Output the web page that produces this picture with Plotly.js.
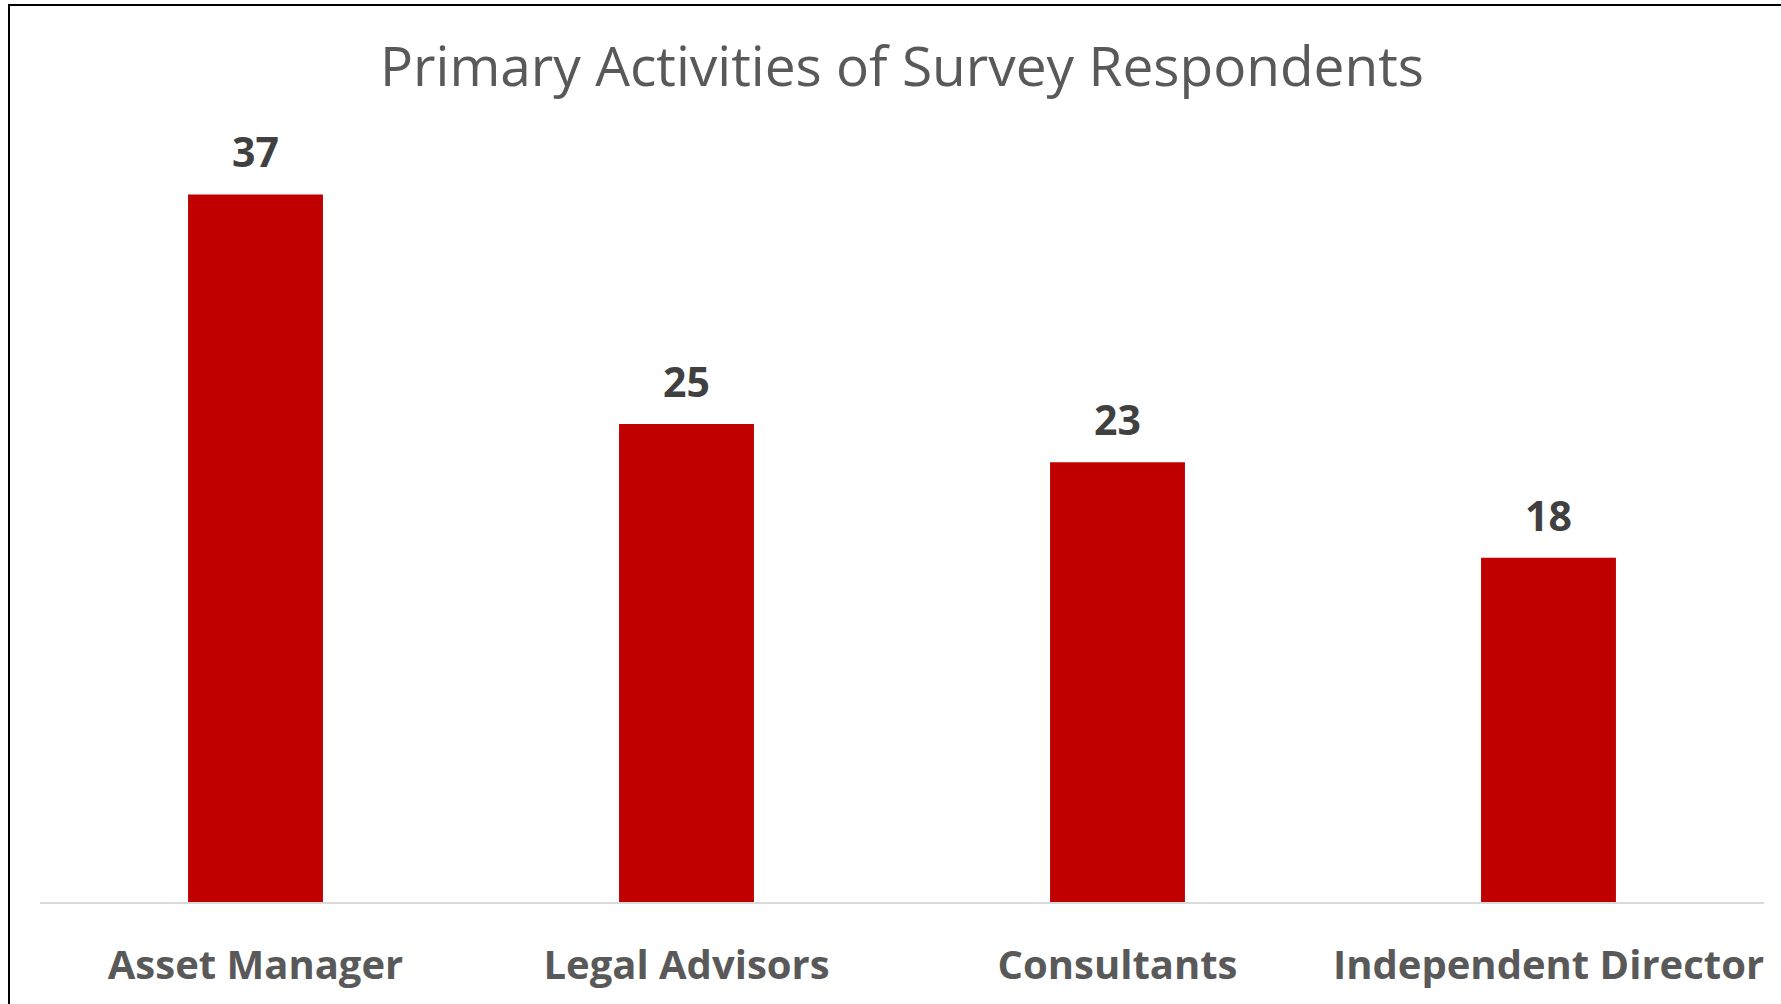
<!DOCTYPE html>
<html>
<head>
<meta charset="utf-8">
<script src="https://cdn.plot.ly/plotly-3.0.1.min.js"></script>
<style>
html,body{margin:0;padding:0;background:#fff;}
#chart{width:1781px;height:1004px;}
</style>
</head>
<body>
<div id="chart"></div>
<script>
const categories = ["Asset Manager", "Legal Advisors", "Consultants", "Independent Director"];
const counts = [37, 25, 23, 18];
const chartTitle = "Primary Activities of Survey Respondents";

const W = 1781, H = 1004;
const mL = 40, mR = 17, mT = 137, mB = 102;
const plotW = W - mL - mR, plotH = H - mT - mB;

const trace = {
  type: 'bar',
  x: categories,
  y: counts,
  marker: {color: '#C00000'},
  hoverinfo: 'skip'
};

const annotations = categories.map((c, i) => ({
  x: c, y: counts[i], xref: 'x', yref: 'y',
  text: String(counts[i]),
  showarrow: false, yanchor: 'bottom', yshift: 13,
  font: {family: 'Open Sans, Noto Sans, sans-serif', size: 41, color: '#404040', weight: 'bold'}
}));

const layout = {
  width: W, height: H,
  margin: {l: mL, r: mR, t: mT, b: mB, pad: 0},
  paper_bgcolor: '#ffffff', plot_bgcolor: '#ffffff',
  bargap: 0.687,
  showlegend: false,
  title: {
    text: chartTitle,
    x: 0.5, xref: 'paper', xanchor: 'center',
    y: 1 - 67 / H, yref: 'container', yanchor: 'middle',
    font: {family: 'Open Sans, Noto Sans, sans-serif', size: 55, color: '#595959'}
  },
  xaxis: {
    showline: true, linecolor: '#d9d9d9', linewidth: 2,
    showgrid: false, zeroline: false, ticks: '',
    ticklabelstandoff: 27,
    tickfont: {family: 'Open Sans, Noto Sans, sans-serif', size: 40, color: '#595959', weight: 'bold'}
  },
  yaxis: {
    range: [0, 40], visible: false, showgrid: false, zeroline: false, fixedrange: true
  },
  annotations: annotations,
  shapes: [{
    type: 'rect', xref: 'paper', yref: 'paper', layer: 'above',
    x0: (9 - mL) / plotW, x1: 1.1,
    y0: -0.3, y1: (H - mB - 5) / plotH,
    line: {color: '#000000', width: 2}, fillcolor: 'rgba(0,0,0,0)'
  }]
};

Plotly.newPlot('chart', [trace], layout, {displayModeBar: false, staticPlot: true});
</script>
</body>
</html>
